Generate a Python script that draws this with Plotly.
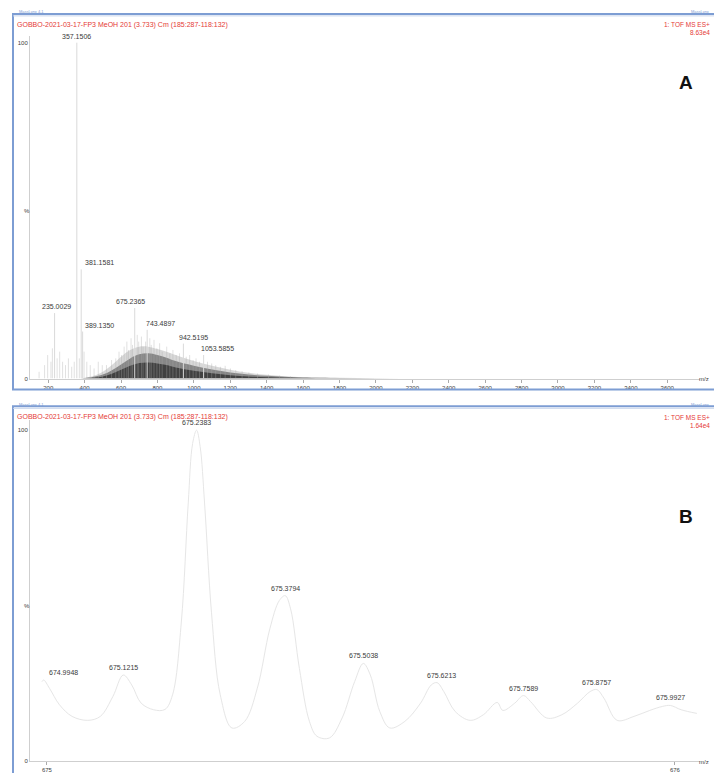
import plotly.graph_objects as go

W, H = 714, 773

# ---------------- Panel A: full-range centroid spectrum ----------------
# labelled peaks (m/z, relative intensity %)
a_label_mz = [235.0029, 357.1506, 381.1581, 389.1350, 675.2365, 743.4897, 942.5195, 1053.5855]
a_label_int = [19.5, 100.0, 32.5, 14.0, 21.0, 14.5, 10.4, 7.0]
a_label_shift = [2, 0, 18, 17, -4, 13, 10, 14]

# unlabelled sticks, low-mass region
a_low_mz = [150, 180, 197, 215, 223, 249, 263, 279, 295, 311, 329, 343, 371, 397, 412, 431, 452, 475, 497]
a_low_int = [2.0, 4.0, 7.0, 5.0, 9.0, 6.0, 8.0, 5.0, 4.0, 6.0, 3.5, 5.0, 6.0, 8.0, 5.0, 4.0, 3.0, 5.0, 4.0]

# unlabelled sticks over the oligomer hump
a_hump_mz = [520, 548, 571, 589, 603, 617, 632, 641, 655, 663, 689, 697, 712, 721, 735, 758, 766, 781,
             797, 812, 826, 851, 868, 885, 903, 921, 958, 977, 996, 1012, 1031, 1075, 1098, 1120, 1146,
             1172, 1201, 1230, 1265, 1302, 1350, 1410, 1470, 1530]
a_hump_int = [4.0, 5.5, 6.0, 8.0, 7.0, 9.5, 11.0, 8.5, 12.0, 10.0, 13.0, 11.0, 12.5, 9.5, 11.0, 12.0, 10.0,
              11.5, 9.0, 10.5, 8.0, 9.5, 7.5, 8.5, 7.0, 7.5, 6.5, 7.0, 5.5, 6.0, 5.0, 5.0, 4.5, 4.0, 3.5,
              3.8, 3.0, 2.5, 2.2, 1.8, 1.5, 1.2, 0.9, 0.7]

# envelopes of the unresolved hump (outer haze, body, dense core)
env_mz = [380, 450, 500, 550, 600, 650, 700, 750, 800, 850, 900, 1000, 1100, 1200, 1300, 1400, 1500, 1600, 1800, 2000, 2200]
env_haze = [0.0, 0.8, 2.0, 4.0, 6.5, 8.5, 9.5, 9.5, 8.8, 8.0, 7.0, 5.2, 3.8, 2.6, 1.7, 1.1, 0.7, 0.45, 0.25, 0.1, 0.0]
env_body = [0.0, 0.5, 1.2, 2.5, 4.2, 6.0, 7.2, 7.5, 7.0, 6.2, 5.2, 3.8, 2.7, 1.8, 1.2, 0.8, 0.5, 0.3, 0.15, 0.05, 0.0]
env_core = [0.0, 0.2, 0.6, 1.4, 2.6, 3.8, 4.6, 4.8, 4.5, 4.0, 3.3, 2.3, 1.6, 1.0, 0.6, 0.4, 0.25, 0.15, 0.05, 0.0, 0.0]

a_ticks = list(range(200, 3800, 200))

# ---------------- Panel B: zoom on the 675 isotope cluster ----------------
b_label_mz = [674.9948, 675.1215, 675.2383, 675.3794, 675.5038, 675.6213, 675.7589, 675.8757, 675.9927]
b_label_int = [24.5, 26.0, 100.0, 50.0, 29.5, 23.7, 19.8, 21.6, 16.8]
b_label_shift = [20, 0, 0, 0, 0, 4, 0, 0, 0]

# profile trace, peaks and valleys
b_mz = [674.9920, 674.9948, 675.0040, 675.0200, 675.0400, 675.0650, 675.0850, 675.1050, 675.1215,
        675.1350, 675.1500, 675.1700, 675.1880, 675.2000, 675.2140, 675.2250, 675.2320, 675.2383,
        675.2440, 675.2510, 675.2620, 675.2760, 675.2946, 675.3150, 675.3350, 675.3550, 675.3700,
        675.3794, 675.3880, 675.4020, 675.4180, 675.4300, 675.4500, 675.4700, 675.4900, 675.5038,
        675.5150, 675.5300, 675.5460, 675.5700, 675.5950, 675.6120, 675.6213, 675.6320, 675.6500,
        675.6740, 675.6950, 675.7170, 675.7260, 675.7450, 675.7589, 675.7700, 675.7960, 675.8200,
        675.8450, 675.8650, 675.8757, 675.8870, 675.9080, 675.9350, 675.9600, 675.9800, 675.9927,
        676.0100, 676.0350]
b_int = [24.0, 24.5, 22.0, 17.0, 13.5, 12.3, 13.5, 19.5, 26.0,
         23.0, 17.5, 15.5, 15.6, 20.0, 42.0, 78.0, 96.0, 100.0,
         95.0, 78.0, 45.0, 20.0, 10.0, 12.0, 22.0, 40.0, 48.5,
         50.0, 46.0, 28.0, 12.0, 7.5, 7.0, 13.0, 24.0, 29.5,
         26.0, 15.0, 10.0, 12.0, 17.5, 23.0, 23.7, 21.0, 15.0,
         12.3, 14.0, 17.7, 15.3, 17.5, 19.8, 18.0, 13.0, 14.0,
         17.5, 21.0, 21.6, 19.0, 12.3, 13.5, 15.3, 16.5, 16.8,
         15.5, 14.4]
b_ticks = [675, 676]

HEADER = "GOBBO-2021-03-17-FP3 MeOH 201 (3.733) Cm (185:287-118:132)"
RED = "#e53935"
BLUE = "#7d9dd3"
TXT = "#3a3a3a"
FONT = "Liberation Sans"


def px_x(p):
    return p / W


def px_y(p):
    return 1 - p / H


def sticks(mz, inten):
    xs, ys = [], []
    for m, v in zip(mz, inten):
        xs += [m, m, None]
        ys += [0, v, None]
    return xs, ys


fig = go.Figure()

# hump envelopes
for env, col in [(env_haze, "rgba(160,160,160,0.40)"), (env_body, "rgba(80,80,80,0.60)"),
                 (env_core, "rgba(35,35,35,0.70)")]:
    fig.add_trace(go.Scatter(x=env_mz, y=env, mode="lines", line=dict(width=0, shape="spline"),
                             fill="tozeroy", fillcolor=col, xaxis="x", yaxis="y", hoverinfo="skip"))

# sticks
sx, sy = sticks(a_low_mz + a_hump_mz, a_low_int + a_hump_int)
fig.add_trace(go.Scatter(x=sx, y=sy, mode="lines", line=dict(color="rgba(170,170,170,0.35)", width=1),
                         xaxis="x", yaxis="y", hoverinfo="skip"))
lx, ly = sticks(a_label_mz, a_label_int)
fig.add_trace(go.Scatter(x=lx, y=ly, mode="lines", line=dict(color="#dadada", width=1),
                         xaxis="x", yaxis="y", hoverinfo="skip"))

# panel B profile
fig.add_trace(go.Scatter(x=b_mz, y=b_int, mode="lines", line=dict(color="#e6e6e6", width=1, shape="spline"),
                         xaxis="x2", yaxis="y2", hoverinfo="skip"))

annotations = []
for m, v, s in zip(a_label_mz, a_label_int, a_label_shift):
    annotations.append(dict(x=m, y=v, xref="x", yref="y", text=f"{m:.4f}", showarrow=False,
                            yanchor="bottom", xshift=s, yshift=1, font=dict(size=7, color=TXT, family=FONT)))
for m, v, s in zip(b_label_mz, b_label_int, b_label_shift):
    annotations.append(dict(x=m, y=v, xref="x2", yref="y2", text=f"{m:.4f}", showarrow=False,
                            yanchor="bottom", xshift=s, yshift=2, font=dict(size=7, color=TXT, family=FONT)))

# headers, panel letters and axis captions
for top, intens, letter, ly_, pct_y, mz_y in [(25, "8.63e4", "A", 83, 212, 381),
                                               (420, "1.64e4", "B", 520, 610, 767)]:
    annotations += [
        dict(x=px_x(15), y=px_y(top), xref="paper", yref="paper", text=HEADER, showarrow=False,
             xanchor="left", yanchor="middle", font=dict(size=7, color=RED, family=FONT)),
        dict(x=px_x(712), y=px_y(top), xref="paper", yref="paper", text="1: TOF MS ES+", showarrow=False,
             xanchor="right", yanchor="middle", font=dict(size=6.5, color=RED, family=FONT)),
        dict(x=px_x(712), y=px_y(top + 8), xref="paper", yref="paper", text=intens, showarrow=False,
             xanchor="right", yanchor="middle", font=dict(size=6.5, color=RED, family=FONT)),
        dict(x=px_x(686), y=px_y(ly_), xref="paper", yref="paper", text=f"<b>{letter}</b>", showarrow=False,
             xanchor="center", yanchor="middle", font=dict(size=19, color="#111", family="Liberation Sans")),
        dict(x=px_x(27), y=px_y(pct_y), xref="paper", yref="paper", text="%", showarrow=False,
             xanchor="center", yanchor="middle", font=dict(size=6, color=TXT, family=FONT)),
        dict(x=px_x(704), y=px_y(mz_y), xref="paper", yref="paper", text="m/z", showarrow=False,
             xanchor="center", yanchor="middle", font=dict(size=6, color=TXT, family=FONT)),
        dict(x=px_x(17), y=px_y(top - 13), xref="paper", yref="paper", text="MassLynx 4.1", showarrow=False,
             xanchor="left", yanchor="middle", font=dict(size=4, color=BLUE, family=FONT)),
        dict(x=px_x(711), y=px_y(top - 13), xref="paper", yref="paper", text="MassLynx", showarrow=False,
             xanchor="right", yanchor="middle", font=dict(size=4, color=BLUE, family=FONT)),
    ]

shapes = [
    # panel frames
    dict(type="rect", xref="paper", yref="paper", x0=px_x(13), x1=px_x(718), y0=px_y(392), y1=px_y(14),
         line=dict(color=BLUE, width=2), layer="above"),
    dict(type="rect", xref="paper", yref="paper", x0=px_x(13), x1=px_x(718), y0=px_y(780), y1=px_y(409),
         line=dict(color=BLUE, width=2), layer="above"),
    dict(type="line", xref="paper", yref="paper", x0=px_x(13), x1=1, y0=px_y(16), y1=px_y(16),
         line=dict(color="#c9d6ec", width=1)),
    dict(type="line", xref="paper", yref="paper", x0=px_x(13), x1=1, y0=px_y(411), y1=px_y(411),
         line=dict(color="#c9d6ec", width=1)),
]

ax_common = dict(showgrid=False, zeroline=False, ticks="outside", ticklen=3, tickcolor="#aaaaaa",
                 tickfont=dict(size=6, color=TXT, family=FONT), showline=True, linecolor="#cfcfcf",
                 linewidth=1)

fig.update_layout(
    width=W, height=H, margin=dict(l=0, r=0, t=0, b=0),
    paper_bgcolor="white", plot_bgcolor="white", showlegend=False,
    xaxis=dict(domain=[px_x(30), px_x(700)], range=[100, 3780], anchor="y", tickvals=a_ticks, **ax_common),
    yaxis=dict(domain=[px_y(381), px_y(36.2)], range=[0, 102], anchor="x", tickvals=[0, 100],
               **{**ax_common, "ticks": ""}),
    xaxis2=dict(domain=[px_x(30), px_x(700)], range=[674.973, 676.040], anchor="y2", tickvals=b_ticks,
                **ax_common),
    yaxis2=dict(domain=[px_y(766), px_y(423)], range=[0, 103], anchor="x2", tickvals=[0, 100],
                **{**ax_common, "ticks": ""}),
    annotations=annotations, shapes=shapes,
)

fig.write_html("out.html")
